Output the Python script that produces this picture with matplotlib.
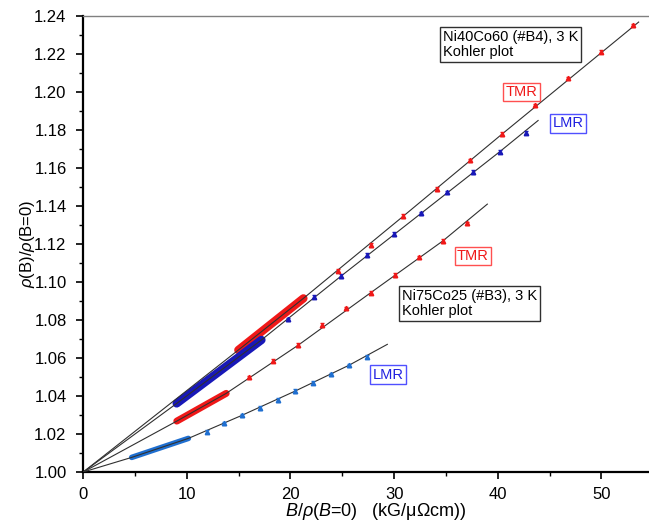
import numpy as np
import matplotlib.pyplot as plt

plt.rcParams["font.family"] = ["Liberation Sans", "DejaVu Sans"]
plt.rcParams["mathtext.fontset"] = "custom"
plt.rcParams["mathtext.rm"] = "Liberation Sans"
plt.rcParams["mathtext.it"] = "Liberation Sans:italic"

# Ni40Co60 (#B4) TMR
b4_tmr_dense_x = [14.97, 21.25]
b4_tmr_dense_y = [1.0642, 1.0914]
b4_tmr_x = [24.57, 27.75, 30.9, 34.1, 37.3, 40.45, 43.6, 46.8, 49.95, 53.1]
b4_tmr_y = [1.106, 1.1195, 1.1347, 1.149, 1.164, 1.178, 1.193, 1.2072, 1.2212, 1.235]
b4_tmr_fit_x = [0, 14.97, 21.25, 30.9, 40.45, 53.6]
b4_tmr_fit_y = [1.0, 1.0642, 1.0914, 1.1347, 1.178, 1.2368]

# Ni40Co60 (#B4) LMR
b4_lmr_dense_x = [9.02, 17.2]
b4_lmr_dense_y = [1.0361, 1.0695]
b4_lmr_x = [19.74, 22.3, 24.9, 27.4, 30.0, 32.6, 35.1, 37.65, 40.2, 42.7]
b4_lmr_y = [1.0804, 1.0923, 1.1032, 1.1142, 1.1253, 1.1361, 1.1472, 1.158, 1.1686, 1.1786]
b4_lmr_fit_x = [0, 9.02, 17.2, 24.9, 32.6, 40.2, 43.9]
b4_lmr_fit_y = [1.0, 1.0361, 1.0695, 1.1032, 1.1361, 1.1686, 1.185]

# Ni75Co25 (#B3) TMR
b3_tmr_dense_x = [9.03, 13.8]
b3_tmr_dense_y = [1.0268, 1.0414]
b3_tmr_x = [16.0, 18.35, 20.76, 23.0, 25.4, 27.75, 30.1, 32.4, 34.7, 37.0]
b3_tmr_y = [1.0498, 1.0586, 1.0668, 1.0774, 1.0861, 1.0944, 1.1037, 1.113, 1.1216, 1.1309]
b3_tmr_fit_x = [0, 9.03, 13.8, 20.76, 27.75, 34.7, 39.0]
b3_tmr_fit_y = [1.0, 1.0268, 1.0414, 1.0668, 1.0944, 1.1216, 1.141]

# Ni75Co25 (#B3) LMR
b3_lmr_dense_x = [4.68, 10.15]
b3_lmr_dense_y = [1.0077, 1.0177]
b3_lmr_x = [11.9, 13.6, 15.3, 17.1, 18.8, 20.45, 22.2, 23.9, 25.65, 27.35]
b3_lmr_y = [1.0212, 1.0256, 1.0298, 1.0338, 1.0379, 1.0426, 1.047, 1.0514, 1.0562, 1.0607]
b3_lmr_fit_x = [0, 4.68, 10.15, 15.3, 20.45, 25.65, 29.35]
b3_lmr_fit_y = [1.0, 1.0077, 1.0177, 1.0298, 1.0426, 1.0562, 1.0672]

RED = "#f01818"
DARK_BLUE = "#1818b8"
LIGHT_BLUE = "#1f6fd0"

fig = plt.figure(figsize=(6.49, 5.28), dpi=100)
ax = fig.add_axes([0.1282, 0.106, 0.8718, 0.8637])

series = [
    (b4_tmr_fit_x, b4_tmr_fit_y, b4_tmr_dense_x, b4_tmr_dense_y, b4_tmr_x, b4_tmr_y, RED, 6.0),
    (b4_lmr_fit_x, b4_lmr_fit_y, b4_lmr_dense_x, b4_lmr_dense_y, b4_lmr_x, b4_lmr_y, DARK_BLUE, 6.0),
    (b3_tmr_fit_x, b3_tmr_fit_y, b3_tmr_dense_x, b3_tmr_dense_y, b3_tmr_x, b3_tmr_y, RED, 5.0),
    (b3_lmr_fit_x, b3_lmr_fit_y, b3_lmr_dense_x, b3_lmr_dense_y, b3_lmr_x, b3_lmr_y, LIGHT_BLUE, 4.0),
]

for fx, fy, dx, dy, px, py, color, lw in series:
    ax.plot(dx, dy, color=color, lw=lw, solid_capstyle="round", zorder=2)
    ax.plot(fx, fy, color="#303030", lw=0.8, zorder=3)
    ax.errorbar(px, py, yerr=0.0009, fmt="^", ms=3.2, color=color,
                elinewidth=0.6, capsize=1.5, zorder=4)

ax.set_xlim(0, 54.6)
ax.set_ylim(1.0, 1.24)
ax.set_xticks(np.arange(0, 51, 10))
ax.set_xticks(np.arange(0, 55, 5), minor=True)
ax.set_yticks(np.arange(1.0, 1.2401, 0.02))
ax.set_yticks(np.arange(1.0, 1.2401, 0.01), minor=True)
ax.set_yticklabels([f"{v:.2f}" for v in np.arange(1.0, 1.2401, 0.02)])

ax.tick_params(which="major", direction="out", length=5, width=1.2, labelsize=12)
ax.tick_params(which="minor", direction="out", length=3, width=1.0)
ax.tick_params(axis="y", pad=7)
ax.tick_params(axis="x", pad=6)

ax.spines["right"].set_visible(False)
ax.spines["top"].set_color("#808080")
ax.spines["top"].set_linewidth(1.0)
ax.spines["left"].set_linewidth(1.6)
ax.spines["bottom"].set_linewidth(1.6)

ax.set_ylabel(r"$\rho$(B)/$\rho$(B=0)", fontsize=12)
ax.yaxis.set_label_coords(-0.082, 0.5)
ax.set_xlabel(r"$B/\rho(B$=0)   (kG/μΩcm))", fontsize=13)
ax.xaxis.set_label_coords(0.5176, -0.064)

box = dict(boxstyle="square,pad=0.2", fc="white", ec="#303030", lw=1.0)
ax.text(34.7, 1.2325, "Ni40Co60 (#B4), 3 K\nKohler plot", fontsize=10.5,
        va="top", ha="left", bbox=box, linespacing=1.05, zorder=5)
ax.text(30.8, 1.0962, "Ni75Co25 (#B3), 3 K\nKohler plot", fontsize=10.5,
        va="top", ha="left", bbox=box, linespacing=1.05, zorder=5)

labels = [
    (42.3, 1.1999, "TMR", RED, "#ff5050"),
    (46.8, 1.1835, "LMR", "#2020e0", "#5050ff"),
    (37.6, 1.1136, "TMR", RED, "#ff5050"),
    (29.4, 1.0513, "LMR", "#2020e0", "#5050ff"),
]
for x, y, txt, tc, ec in labels:
    ax.text(x, y, txt, fontsize=10.5, color=tc, ha="center", va="center",
            bbox=dict(boxstyle="square,pad=0.15", fc="white", ec=ec, lw=1.0), zorder=5)

fig.savefig("out.png", dpi=100)
